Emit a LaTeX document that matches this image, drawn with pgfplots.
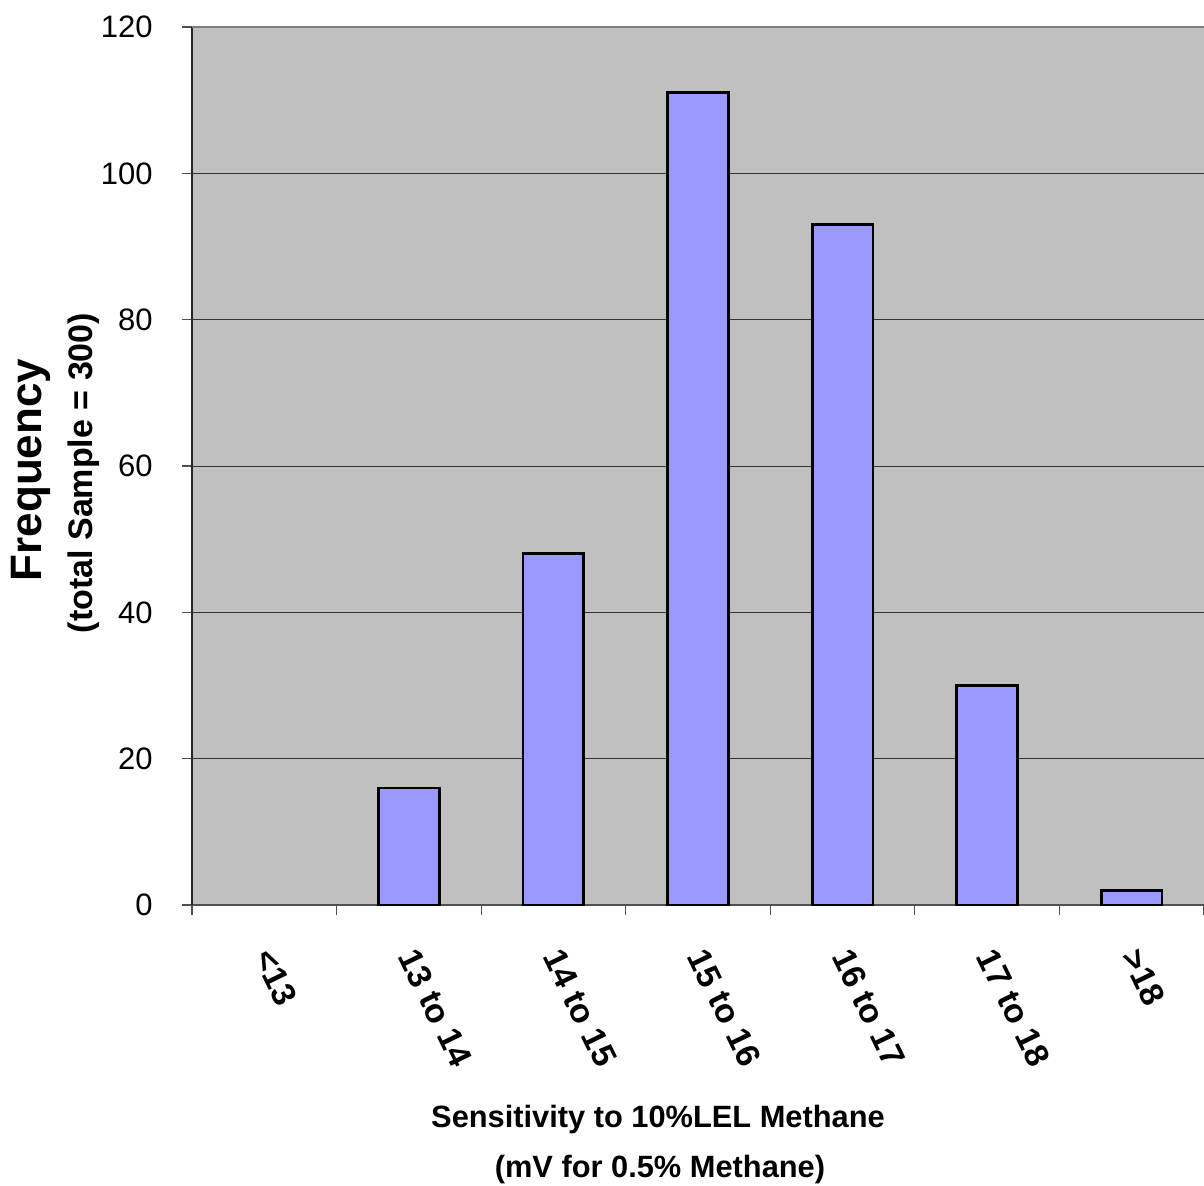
\documentclass[border=0pt]{standalone}
\usepackage{pgfplots}
\pgfplotsset{compat=1.18}
\usepackage{fontspec}
\setmainfont{Liberation Sans}
\usetikzlibrary{calc}

\definecolor{plotbg}{RGB}{192,192,192}
\definecolor{barfill}{RGB}{153,153,255}
\definecolor{gridc}{RGB}{51,51,51}
\definecolor{topline}{RGB}{128,128,128}
\definecolor{xaxisc}{RGB}{80,80,80}

\begin{document}
\begin{tikzpicture}
\begin{axis}[
  scale only axis,
  width=506pt, height=439pt,
  xmin=-0.5, xmax=6.5,
  ymin=0, ymax=120,
  ytick={0,20,...,120},
  xtick={0,...,6},
  xticklabels={<13, 13 to 14, 14 to 15, 15 to 16, 16 to 17, 17 to 18, >18},
  minor xtick={-0.5,0.5,...,6.5},
  axis x line*=bottom,
  axis y line*=left,
  axis line style={-},
  x axis line style={xaxisc, line width=1pt},
  y axis line style={black!85, line width=1pt},
  axis background/.style={fill=plotbg},
  ymajorgrids,
  major grid style={gridc, line width=0.5pt},
  tick align=outside,
  major tick length=5pt,
  minor tick length=5pt,
  major x tick style={draw=none},
  minor x tick style={xaxisc, line width=0.6pt},
  major y tick style={xaxisc, line width=0.8pt},
  /pgf/number format/assume math mode=true,
  yticklabel style={anchor=east, inner sep=0pt, xshift=-14.5pt,
    font=\fontsize{15.5}{18}\selectfont},
  xticklabel style={xshift=5pt, yshift=-15.5pt, rotate=-64, anchor=north west,
    inner sep=0pt, font=\fontsize{16.8}{19}\selectfont\bfseries},
]
% frequency per sensitivity class (the <13 class is empty)
\addplot[ybar, bar width=0.42, fill=barfill, draw=black, line width=1.4pt]
  coordinates {(1,16) (2,48) (3,111) (4,93) (5,30) (6,2)};
\draw[topline, line width=1.5pt] (rel axis cs:0,1) -- (rel axis cs:1,1);
\coordinate (O) at (rel axis cs:0,0);
\end{axis}

\node[rotate=90, anchor=base, font=\fontsize{22}{26}\selectfont\bfseries]
  at ($(O)+(-75pt,217.5pt)$) {Frequency};
\node[rotate=90, anchor=base, font=\fontsize{17}{20}\selectfont\bfseries]
  at ($(O)+(-49.5pt,216pt)$) {(total Sample = 300)};
\node[anchor=base, font=\fontsize{15.4}{18}\selectfont\bfseries]
  at ($(O)+(233pt,-111pt)$) {Sensitivity to 10\%LEL Methane};
\node[anchor=base, font=\fontsize{15.4}{18}\selectfont\bfseries]
  at ($(O)+(234pt,-136pt)$) {(mV for 0.5\% Methane)};

\pgfresetboundingbox
\path[use as bounding box] ($(O)+(-96pt,-140pt)$) rectangle ($(O)+(506pt,452.5pt)$);
\end{tikzpicture}
\end{document}
